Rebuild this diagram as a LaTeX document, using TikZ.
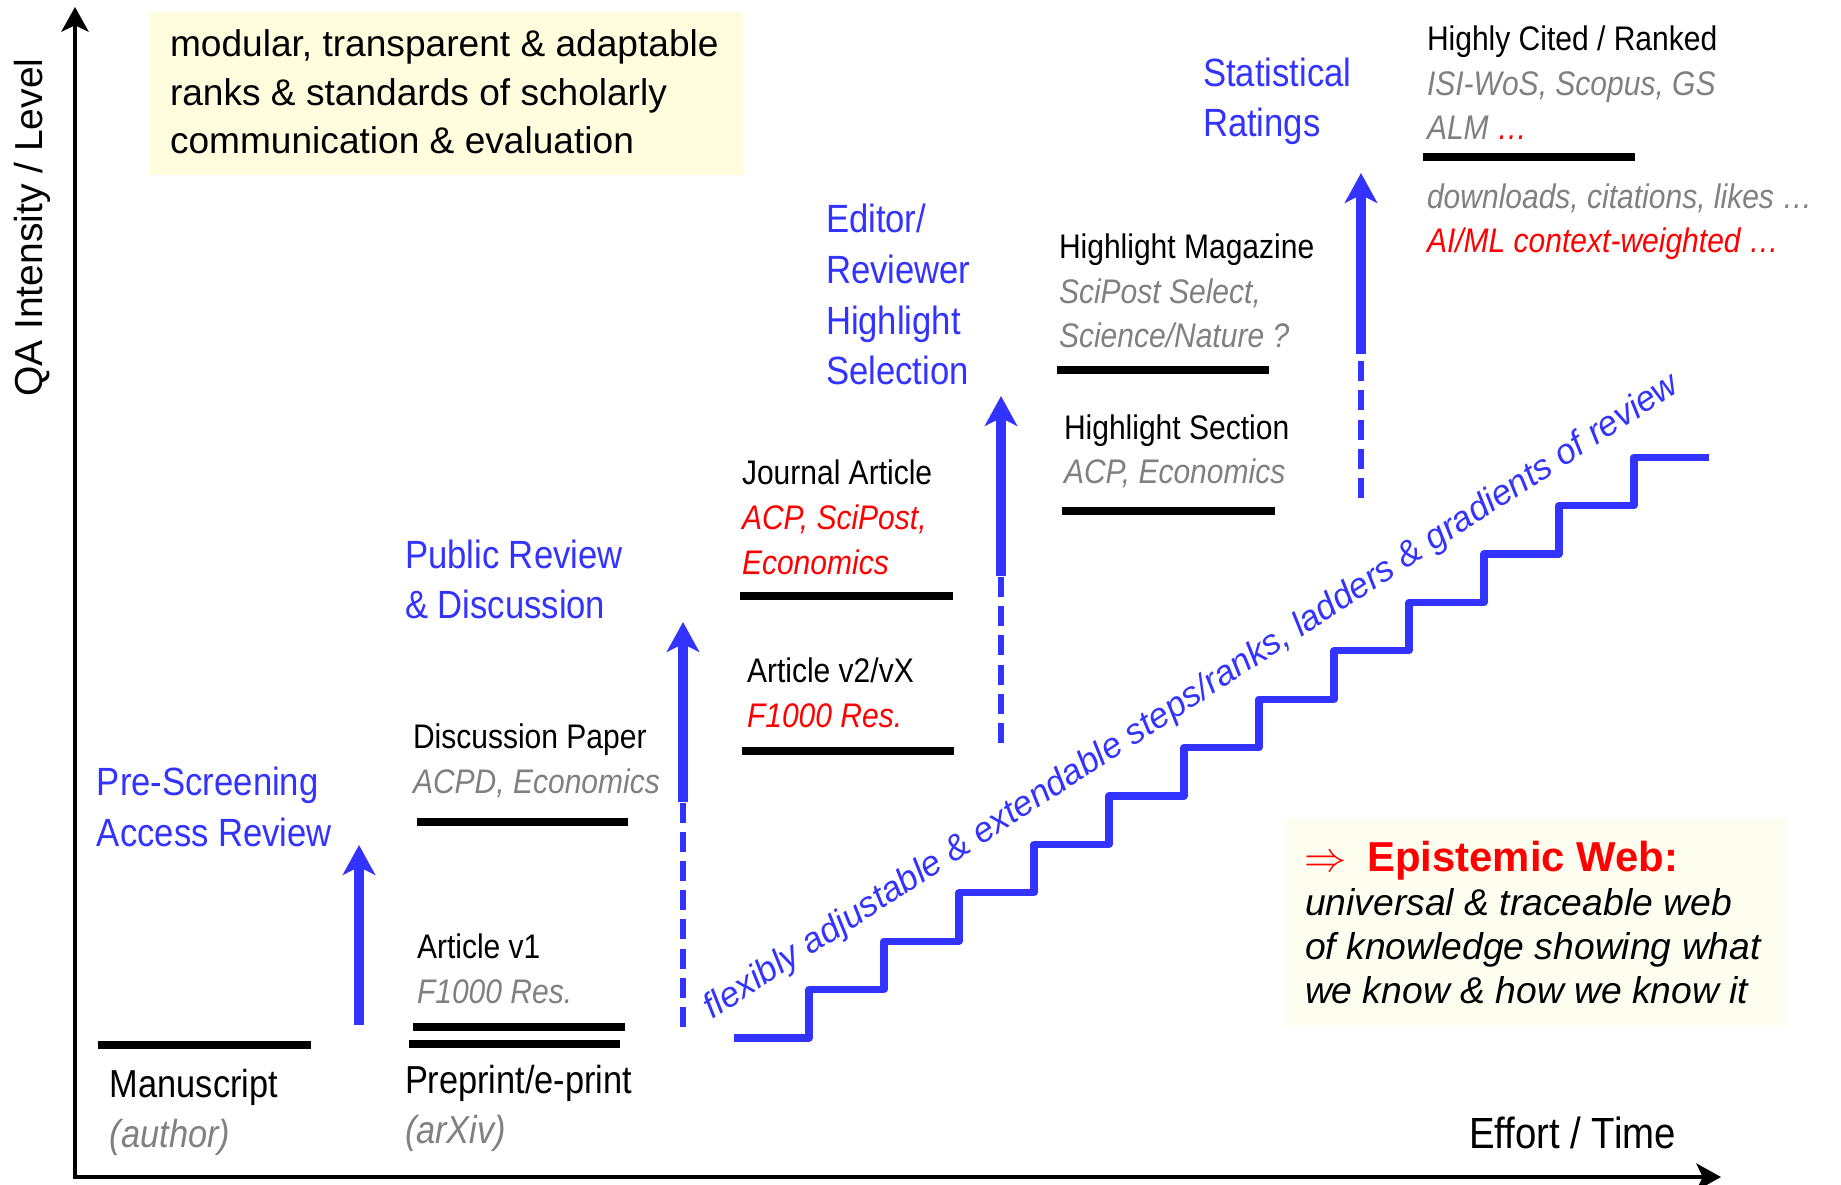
\documentclass[tikz,border=0pt]{standalone}
\usepackage{fontspec}
\setmainfont{Liberation Sans}
\newfontfamily\narrowfont{Liberation Sans}[FakeStretch=0.88]
\usetikzlibrary{arrows.meta,positioning}

\definecolor{qablue}{RGB}{51,51,255}
\definecolor{qagray}{RGB}{128,128,128}
\definecolor{qared}{RGB}{255,0,0}
\definecolor{notefill}{RGB}{255,253,222}
\definecolor{webfill}{RGB}{254,254,240}

\newcommand\grayref[1]{{\color{qagray}\itshape #1}}
\newcommand\redref[1]{{\color{qared}\itshape #1}}

% multi-line nodes sit on the baseline of their last line
\tikzset{
  every node/.style={inner sep=0pt,outer sep=0pt},
  note/.style={font=\fontsize{10.55}{13.9}\selectfont,align=left,anchor=base west},
  stage/.style={font=\narrowfont\fontsize{9.7}{12.7}\selectfont,align=left,anchor=base west},
  lowstage/.style={font=\narrowfont\fontsize{11.1}{14.2}\selectfont,align=left,anchor=base west},
  review/.style={font=\narrowfont\fontsize{11.2}{14.5}\selectfont,text=qablue,align=left,anchor=base west},
  bar/.style={line width=2.3pt},
  qaarrow/.style={qablue,line width=2.9pt,-{Stealth[length=8.5pt,width=9.2pt,inset=2.3pt]}},
  qadash/.style={qablue,line width=1.7pt,dash pattern=on 5.7pt off 2.6pt},
  stair/.style={qablue,line width=2pt,line join=round},
  axis/.style={line width=1.2pt,
    {Stealth[length=7pt,width=7.7pt,inset=1.8pt]}-{Stealth[length=7pt,width=7.7pt,inset=1.8pt]}}
}

\begin{document}
\begin{tikzpicture}[x=0.01cm,y=-0.01cm]
  \useasboundingbox (0,0) rectangle (1841,1185);

  % shaded boxes
  \fill[notefill] (150,12) rectangle (743,175);
  \fill[webfill] (1283,819) rectangle (1788,1025);

  % axes
  \coordinate (ytip)   at (75,7);
  \coordinate (origin) at (75,1177);
  \coordinate (xtip)   at (1721,1177);
  \draw[axis] (ytip) -- (origin) -- (xtip);

  \node[rotate=90,anchor=base west,font=\fontsize{11.1}{13}\selectfont] (qa) at (43,397) {QA Intensity / Level};
  \node[anchor=base west,font=\narrowfont\fontsize{12.4}{15}\selectfont] (effort) at (1469,1148) {Effort / Time};

  \node[note] (scope) at (170,154) {modular, transparent \& adaptable\\ranks \& standards of scholarly\\communication \& evaluation};

  % stages
  \node[lowstage] (manu)     at (110,1147) {Manuscript\\\grayref{(author)}};
  \node[lowstage] (preprint) at (405,1143) {Preprint/e-print\\\grayref{(arXiv)}};
  \node[stage] (art1)      at (417,1003) {Article v1\\\grayref{F1000 Res.}};
  \node[stage] (discpaper) at (413,793)  {Discussion Paper\\\grayref{ACPD, Economics}};
  \node[stage] (art2)      at (747,727)  {Article v2/vX\\\redref{F1000 Res.}};
  \node[stage] (journal)   at (742,574)  {Journal Article\\\redref{ACP, SciPost,}\\\redref{Economics}};
  \node[stage] (hlsec)     at (1064,484) {Highlight Section\\\grayref{ACP, Economics}};
  \node[stage] (hlmag)     at (1059,348) {Highlight Magazine\\\grayref{SciPost Select,}\\\grayref{Science/Nature ?}};
  \node[stage] (cited)     at (1427,140) {Highly Cited / Ranked\\\grayref{ISI-WoS, Scopus, GS}\\\grayref{ALM} \redref{…}};
  \node[stage] (metrics)   at (1427,253) {\grayref{downloads, citations, likes …}\\\redref{AI/ML context-weighted …}};

  \foreach \xa/\xb/\y in {98/311/1045, 409/620/1044, 413/625/1027, 417/628/822, 742/954/751,
                          740/953/596, 1062/1275/511, 1057/1269/370, 1423/1635/157}
    \draw[bar] (\xa,\y) -- (\xb,\y);

  % review steps
  \node[review] (prescreen) at (97,846)  {Pre-Screening\\Access Review};
  \node[review] (public)    at (405,619) {Public Review\\\& Discussion};
  \node[review] (editor)    at (826,385) {Editor/\\Reviewer\\Highlight\\Selection};
  \node[review] (stats)     at (1203,137) {Statistical\\Ratings};

  \coordinate (pre-lo) at (359,1025);
  \coordinate (pre-hi) at (359,845);
  \draw[qaarrow] (pre-lo) -- (pre-hi);

  \foreach \name/\x/\lo/\mid/\hi in {pub/683/1027/802/622, edit/1001/743/576/396, stat/1361/498/354/173} {
    \coordinate (\name-lo)  at (\x,\lo);
    \coordinate (\name-mid) at (\x,\mid);
    \coordinate (\name-hi)  at (\x,\hi);
    \draw[qadash]  (\name-lo) -- (\name-mid);
    \draw[qaarrow] (\name-mid) -- (\name-hi);
  }

  % staircase
  \coordinate (stairs) at (734,1038);
  \draw[stair] (stairs) \foreach \i in {1,...,12} { -- ++(75,0) -- ++(0,-48.4) } -- ++(75,0);

  \node[rotate=33,anchor=base,text=qablue,font=\fontsize{10}{12}\selectfont\itshape] (ladder) at (1197,705)
    {flexibly adjustable \& extendable steps/ranks, ladders \& gradients of review};

  % epistemic web
  \node[anchor=base west,text=qared,font=\fontsize{11.9}{14}\selectfont] (webhead) at (1304,871)
    {$\Rightarrow$\hspace{6pt}\bfseries Epistemic Web:};
  \node[anchor=base west,align=left,font=\fontsize{10.6}{12.5}\selectfont\itshape] (webbody) at (1305,1003)
    {universal \& traceable web\\of knowledge showing what\\we know \& how we know it};
\end{tikzpicture}
\end{document}
